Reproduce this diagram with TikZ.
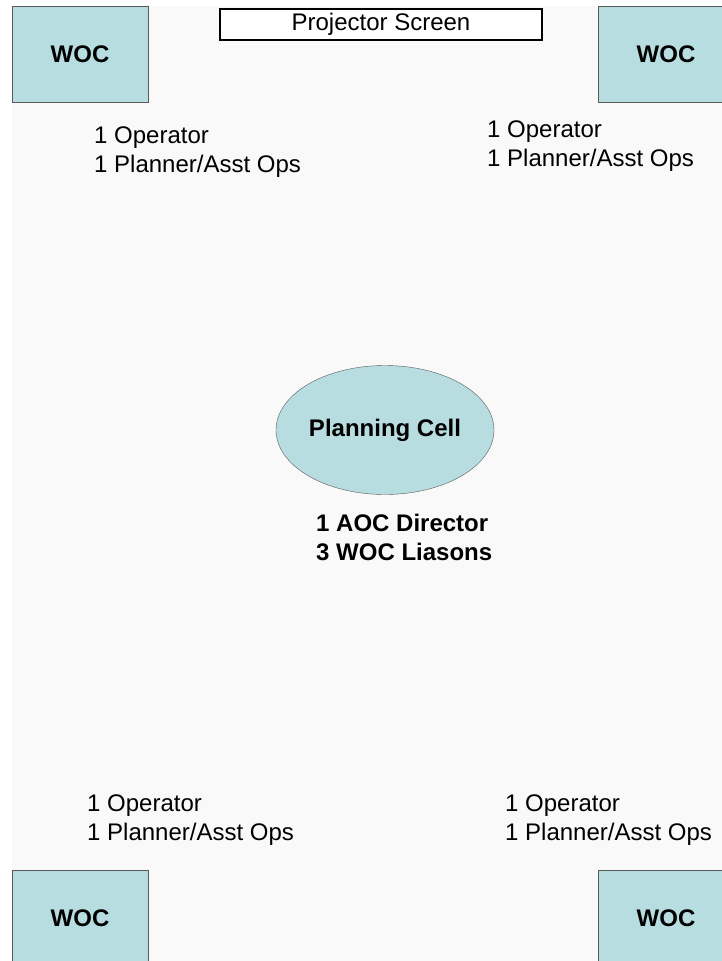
\documentclass[tikz,border=0pt]{standalone}
\usepackage{fontspec}
\setmainfont{Liberation Sans}
\usepackage{tikz}
\usetikzlibrary{shapes.geometric}
\definecolor{wocfill}{RGB}{183,221,224}
\definecolor{roomfill}{RGB}{249,249,249}
\colorlet{wocline}{black!65}
\newcommand{\roomfont}{\fontsize{24}{29}\selectfont}

\begin{document}
\begin{tikzpicture}[
x=1pt,y=-1pt,
WocBox/.style={draw=wocline,fill=wocfill,thin,minimum width=136pt,minimum height=96pt,inner sep=0pt,font=\roomfont\bfseries},
ScreenBox/.style={draw=black,line width=2pt,fill=white,minimum width=322pt,minimum height=31pt,inner sep=0pt,font=\roomfont},
CellEllipse/.style={ellipse,draw=wocline,fill=wocfill,thin,minimum width=218pt,minimum height=129pt,inner sep=0pt,font=\roomfont\bfseries},
Staff/.style={anchor=base west,align=left,inner sep=0pt,font=\roomfont}
]
\useasboundingbox (0,0) rectangle (722,961);
\clip (0,0) rectangle (722,961);

% the room
\fill[white] (0,0) rectangle (722,961);
\fill[roomfill] (12,6) rectangle (722,961);

% WOC corners, the right and lower ones run off the page
\node[WocBox] (wocNW) at (80,54) {WOC};
\node[WocBox] (wocNE) at (666,54) {WOC};
\node[WocBox] (wocSW) at (80,918) {WOC};
\node[WocBox] (wocSE) at (666,918) {WOC};

\node[ScreenBox] (screen) at (381,24) {Projector Screen};

\node[CellEllipse] (cell) at (385,430) {Planning Cell};
% base of a two-line node sits on its last line
\node[Staff,font=\roomfont\bfseries] (cellStaff) at (316,560) {1 AOC Director\\3 WOC Liasons};

% who sits at each WOC
\node[Staff] (staffNW) at (94,172) {1 Operator\\1 Planner/Asst Ops};
\node[Staff] (staffNE) at (487,166) {1 Operator\\1 Planner/Asst Ops};
\node[Staff] (staffSW) at (87,840) {1 Operator\\1 Planner/Asst Ops};
\node[Staff] (staffSE) at (505,840) {1 Operator\\1 Planner/Asst Ops};

\end{tikzpicture}
\end{document}
